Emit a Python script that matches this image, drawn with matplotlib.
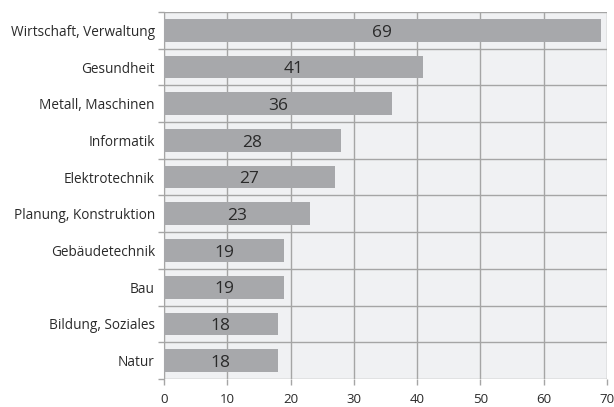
import numpy as np
import matplotlib.pyplot as plt

categories = ["Wirtschaft, Verwaltung", "Gesundheit", "Metall, Maschinen",
              "Informatik", "Elektrotechnik", "Planung, Konstruktion",
              "Gebäudetechnik", "Bau", "Bildung, Soziales", "Natur"]
values = [69, 41, 36, 28, 27, 23, 19, 19, 18, 18]
xticks = [0, 10, 20, 30, 40, 50, 60, 70]

plt.rcParams['font.family'] = ['Open Sans', 'DejaVu Sans']

fig = plt.figure(figsize=(6.14, 4.07), dpi=100)
ax = fig.add_axes([0.267, 0.069, 0.7216, 0.9015])
ax.set_facecolor('#f0f1f3')

n = len(categories)
y = np.arange(n)
ax.barh(y, values, height=0.62, color='#a7a8ab', zorder=3)
# baseline placed so the digits are optically centred in the bar
for yi, v in zip(y, values):
    ax.text(v / 2, yi + 0.17, str(v), ha='center', va='baseline',
            fontsize=12.5, color='#2a2a2a', zorder=4)

ax.set_xlim(0, 70)
ax.set_ylim(n - 0.5, -0.5)
ax.set_xticks(xticks)
ax.set_yticks(y)
ax.set_yticklabels(categories)
ax.set_yticks(np.arange(n + 1) - 0.5, minor=True)

ax.grid(axis='x', color='#a5a5a5', linewidth=1.0, zorder=1)
ax.grid(axis='y', which='minor', color='#a5a5a5', linewidth=1.0, zorder=1)
ax.grid(axis='y', which='major', visible=False)

ax.tick_params(axis='y', which='major', length=0, labelsize=9.8, pad=6.5,
               labelcolor='#2a2a2a')
ax.tick_params(axis='y', which='minor', length=4, color='#a5a5a5', width=1.0)
ax.tick_params(axis='x', length=4, color='#a5a5a5', width=1.0,
               labelsize=9.5, pad=6, labelcolor='#2a2a2a')

for side in ['top', 'right', 'bottom']:
    ax.spines[side].set_visible(False)
ax.spines['left'].set_color('#a5a5a5')

fig.savefig('out.png', dpi=100)
